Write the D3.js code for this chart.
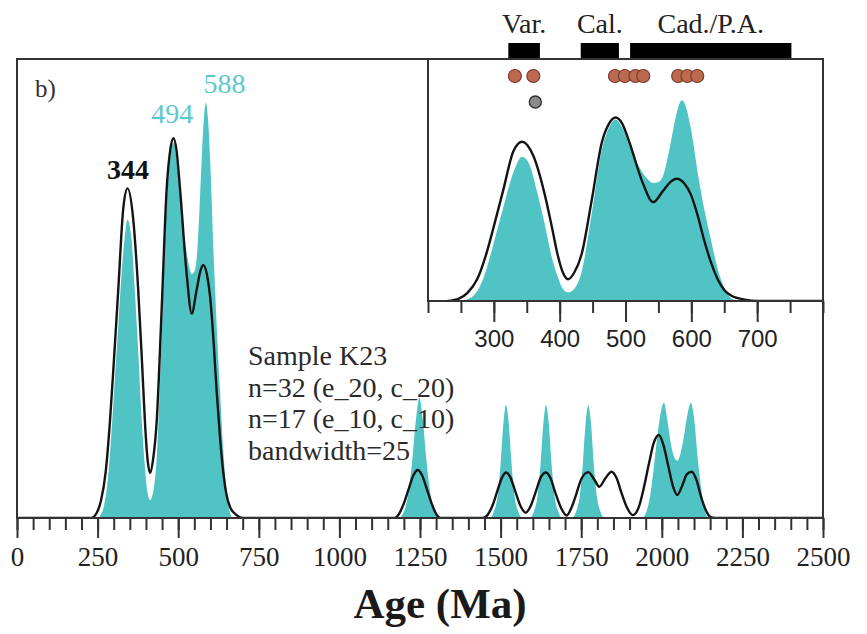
<!DOCTYPE html>
<html>
<head>
<meta charset="utf-8">
<script src="https://cdn.jsdelivr.net/npm/d3@7/dist/d3.min.js"></script>
<style>
  html, body { margin: 0; padding: 0; background: #fff; }
  svg { display: block; }
</style>
</head>
<body>
<svg id="chart" width="867" height="634"></svg>
<script>
// ---------------- DATA ----------------
// KDE of all analyses (black line): [age Ma, relative density]
const kdeAll = [[0,0],[230,0],[247,1.2],[260,4],[275,11],[288,22.8],[300,37],[314,54.6],[330,74.5],[343,79],[360,72],[376,54.6],[388,37],[397,22.8],[405,14],[413,10.8],[422,14],[433,22.8],[449,50.6],[464,78.6],[475,88],[485,91],[495,88],[506,78.6],[526,58.7],[542,49],[557,54.6],[570,59.5],[578,60.6],[590,58],[599,53],[610,42],[619,30.7],[630,19],[640,10.8],[650,5.5],[661,2.6],[681,0.7],[700,0],[1170,0],[1185,1],[1200,3.5],[1215,7],[1230,10.3],[1243,11.5],[1256,10.3],[1271,7],[1286,3.5],[1300,1],[1315,0],[1445,0],[1460,0.8],[1475,3],[1490,6.5],[1505,9.8],[1517,10.9],[1530,9.8],[1545,6.5],[1560,3.2],[1578,1.3],[1595,3.2],[1610,6.5],[1625,9.8],[1641,10.9],[1655,9.5],[1670,6],[1687,2.5],[1705,0.6],[1720,2.5],[1735,5.8],[1750,9.3],[1772,11],[1790,9.3],[1806,7.5],[1825,9.5],[1844,11.1],[1860,9.5],[1875,6],[1892,2.5],[1910,0.7],[1928,2.5],[1945,7.5],[1960,13],[1975,18],[1991,19.9],[2005,17.5],[2020,12.5],[2035,7.5],[2048,5.5],[2062,7.5],[2078,10.5],[2093,11.1],[2108,9],[2122,5],[2137,1.8],[2150,0.3],[2165,0],[2500,0]];

// KDE of concordant subset (teal fill)
const kdeSubset = [[0,0],[250,0],[257,0.5],[270,3],[280,8],[288,15],[300,29],[314,46],[330,64],[343,71.5],[355,67],[365,55],[376,40],[388,22],[397,12],[405,6],[413,4.3],[422,6],[433,14],[449,44],[464,75],[475,86],[485,90],[495,86],[506,77],[520,67],[532,61],[542,58.5],[550,59],[557,62],[566,74],[573,86],[580,96],[586,99.5],[592,96],[599,86],[611,61],[620,45],[630,30],[640,16],[650,6.5],[660,1.5],[670,0],
[1185,0],[1200,1.5],[1212,5],[1225,13],[1238,24],[1248,28.8],[1258,24],[1271,13],[1284,5],[1296,1.5],[1310,0],
[1467,0],[1479,1.5],[1490,5],[1500,13],[1509,23],[1517,27.1],[1525,23],[1534,13],[1544,5],[1555,1.5],[1567,0],
[1591,0],[1603,1.5],[1614,5],[1624,13],[1633,23],[1641,27.1],[1649,23],[1658,13],[1668,5],[1679,1.5],[1691,0],
[1722,0],[1734,1.5],[1745,5],[1755,13],[1764,23],[1772,27],[1780,23],[1789,13],[1799,5],[1810,1.5],[1822,0],
[1940,0],[1952,1.5],[1963,5],[1975,12],[1990,22],[2000,26.5],[2007,27.6],[2016,24],[2030,17],[2048,13.7],[2065,18],[2080,25],[2090,27.6],[2100,24],[2112,14],[2125,5.5],[2135,1.5],[2145,0],[2500,0]];

const peakLabels = [
  {text: "344", age: 344, series: "all"},
  {text: "494", age: 494, series: "subset"},
  {text: "588", age: 588, series: "subset"}
];

const mainTicks = [0, 250, 500, 750, 1000, 1250, 1500, 1750, 2000, 2250, 2500];
const insetTicks = [300, 400, 500, 600, 700];

// orogenic events (Ma)
const events = [
  {name: "Var.", start: 322, end: 370},
  {name: "Cal.", start: 432, end: 490},
  {name: "Cad./P.A.", start: 507, end: 752}
];
// magmatic ages
const redDots = [332, 360, 484, 499, 515, 527, 580, 594, 609];
const greyDots = [363];

const legendLines = ["Sample K23", "n=32 (e_20, c_20)", "n=17 (e_10, c_10)", "bandwidth=25"];

// ---------------- LAYOUT ----------------
const TEAL = "#50c4c4";
const TEAL_TXT = "#5cc8cc";
const SERIF = "'Liberation Serif', 'Times New Roman', serif";
const SANS = "'Liberation Sans', Arial, sans-serif";

const svg = d3.select("#chart");
const main = {x0: 17, x1: 823, y0: 59, y1: 518};
const ins = {x0: 428, x1: 823, y0: 59, y1: 301};

const x = d3.scaleLinear().domain([0, 2500]).range([main.x0, main.x1]);
const y = d3.scaleLinear().domain([0, 110]).range([main.y1, main.y0]);
const xi = d3.scaleLinear().domain([200, 800]).range([ins.x0, ins.x1]);
const yi = d3.scaleLinear().domain([0, 120]).range([ins.y1, ins.y0]);

const defs = svg.append("defs");
defs.append("clipPath").attr("id", "clipMain").append("rect")
  .attr("x", main.x0).attr("y", main.y0).attr("width", main.x1 - main.x0).attr("height", main.y1 - main.y0);
defs.append("clipPath").attr("id", "clipInset").append("rect")
  .attr("x", ins.x0).attr("y", ins.y0).attr("width", ins.x1 - ins.x0).attr("height", ins.y1 - ins.y0);

// ---------- main panel ----------
const gMain = svg.append("g").attr("clip-path", "url(#clipMain)");
gMain.append("path").datum(kdeSubset)
  .attr("fill", TEAL)
  .attr("d", d3.area().x(d => x(d[0])).y0(y(0)).y1(d => y(d[1])).curve(d3.curveMonotoneX));
gMain.append("path").datum(kdeAll)
  .attr("fill", "none").attr("stroke", "#141414").attr("stroke-width", 2.4).attr("stroke-linejoin", "round")
  .attr("d", d3.line().x(d => x(d[0])).y(d => y(d[1])).curve(d3.curveMonotoneX));

// axes main
const axMinor = d3.axisBottom(x).tickValues(d3.range(0, 2501, 50)).tickSize(12).tickFormat("");
const axMajor = d3.axisBottom(x).tickValues(mainTicks).tickSize(20).tickPadding(9).tickFormat(d3.format("d"));
const gAxMinor = svg.append("g").attr("transform", `translate(0,${main.y1})`).call(axMinor);
const gAxMajor = svg.append("g").attr("transform", `translate(0,${main.y1})`).call(axMajor);
[gAxMinor, gAxMajor].forEach(g => {
  g.select(".domain").remove();
  g.selectAll(".tick line").attr("stroke", "#333").attr("stroke-width", 2);
});
gAxMajor.selectAll(".tick text")
  .attr("font-family", SERIF).attr("font-size", 27).attr("fill", "#222");

svg.append("text").attr("x", 440).attr("y", 618).attr("text-anchor", "middle")
  .attr("font-family", SERIF).attr("font-weight", "bold").attr("font-size", 43).attr("fill", "#1a1a1a")
  .text("Age (Ma)");

// frame
svg.append("rect").attr("x", main.x0).attr("y", main.y0).attr("width", main.x1 - main.x0).attr("height", main.y1 - main.y0)
  .attr("fill", "none").attr("stroke", "#333").attr("stroke-width", 2);

svg.append("text").attr("x", 35).attr("y", 97).attr("font-family", SERIF).attr("font-size", 25).attr("fill", "#333").text("b)");

// peak labels
const peakStyle = {
  "344": {dx: 0, dy: -9, fill: "#111", weight: "bold"},
  "494": {dx: -4, dy: -19, fill: TEAL_TXT, weight: "normal"},
  "588": {dx: 18, dy: -10, fill: TEAL_TXT, weight: "normal"}
};
const peakMax = (arr, a) => d3.max(arr.filter(d => Math.abs(d[0] - a) < 15), d => d[1]);
svg.selectAll("text.peak").data(peakLabels).join("text").attr("class", "peak")
  .attr("x", d => x(d.age) + peakStyle[d.text].dx)
  .attr("y", d => y(peakMax(d.series === "all" ? kdeAll : kdeSubset, d.age)) + peakStyle[d.text].dy)
  .attr("text-anchor", "middle").attr("font-family", SERIF).attr("font-size", 28)
  .attr("font-weight", d => peakStyle[d.text].weight).attr("fill", d => peakStyle[d.text].fill)
  .text(d => d.text);

// legend text
svg.selectAll("text.leg").data(legendLines).join("text").attr("class", "leg")
  .attr("x", 248).attr("y", (d, i) => 365 + i * 31.5)
  .attr("font-family", SERIF).attr("font-size", 28).attr("fill", "#2a2a2a")
  .text(d => d);

// ---------- inset ----------
svg.append("rect").attr("x", ins.x0).attr("y", ins.y0).attr("width", ins.x1 - ins.x0).attr("height", ins.y1 - ins.y0)
  .attr("fill", "#fff");
const gIns = svg.append("g").attr("clip-path", "url(#clipInset)");
const subIns = kdeSubset.filter(d => d[0] >= 100 && d[0] <= 1000);
const allIns = kdeAll.filter(d => d[0] >= 100 && d[0] <= 1200);
gIns.append("path").datum(subIns)
  .attr("fill", TEAL)
  .attr("d", d3.area().x(d => xi(d[0])).y0(yi(0)).y1(d => yi(d[1])).curve(d3.curveMonotoneX));
gIns.append("path").datum(allIns)
  .attr("fill", "none").attr("stroke", "#141414").attr("stroke-width", 2.4).attr("stroke-linejoin", "round")
  .attr("d", d3.line().x(d => xi(d[0])).y(d => yi(d[1])).curve(d3.curveMonotoneX));

// dots
gIns.selectAll("circle.red").data(redDots).join("circle").attr("class", "red")
  .attr("cx", d => xi(d)).attr("cy", 76).attr("r", 6.5)
  .attr("fill", "#bb6a50").attr("stroke", "#7a3b2b").attr("stroke-width", 1.2);
gIns.selectAll("circle.grey").data(greyDots).join("circle").attr("class", "grey")
  .attr("cx", d => xi(d)).attr("cy", 102).attr("r", 6)
  .attr("fill", "#8c8c8c").attr("stroke", "#333").attr("stroke-width", 1.4);

// inset axes
const iaMinor = d3.axisBottom(xi).tickValues(d3.range(200, 801, 50)).tickSize(12).tickFormat("");
const iaMajor = d3.axisBottom(xi).tickValues(insetTicks).tickSize(21).tickPadding(8).tickFormat(d3.format("d"));
const giMinor = svg.append("g").attr("transform", `translate(0,${ins.y1})`).call(iaMinor);
const giMajor = svg.append("g").attr("transform", `translate(0,${ins.y1})`).call(iaMajor);
[giMinor, giMajor].forEach(g => {
  g.select(".domain").remove();
  g.selectAll(".tick line").attr("stroke", "#333").attr("stroke-width", 2);
});
giMajor.selectAll(".tick text").attr("font-family", SANS).attr("font-size", 24).attr("fill", "#222");

svg.append("rect").attr("x", ins.x0).attr("y", ins.y0).attr("width", ins.x1 - ins.x0).attr("height", ins.y1 - ins.y0)
  .attr("fill", "none").attr("stroke", "#333").attr("stroke-width", 2);

// event bars
svg.selectAll("rect.ev").data(events).join("rect").attr("class", "ev")
  .attr("x", d => xi(d.start)).attr("y", 43)
  .attr("width", d => xi(d.end) - xi(d.start)).attr("height", 15).attr("fill", "#000");
svg.selectAll("text.ev").data(events).join("text").attr("class", "ev")
  .attr("x", d => (xi(d.start) + xi(d.end)) / 2).attr("y", 33)
  .attr("text-anchor", "middle").attr("font-family", SERIF).attr("font-size", 28).attr("fill", "#222")
  .text(d => d.name);
</script>
</body>
</html>
